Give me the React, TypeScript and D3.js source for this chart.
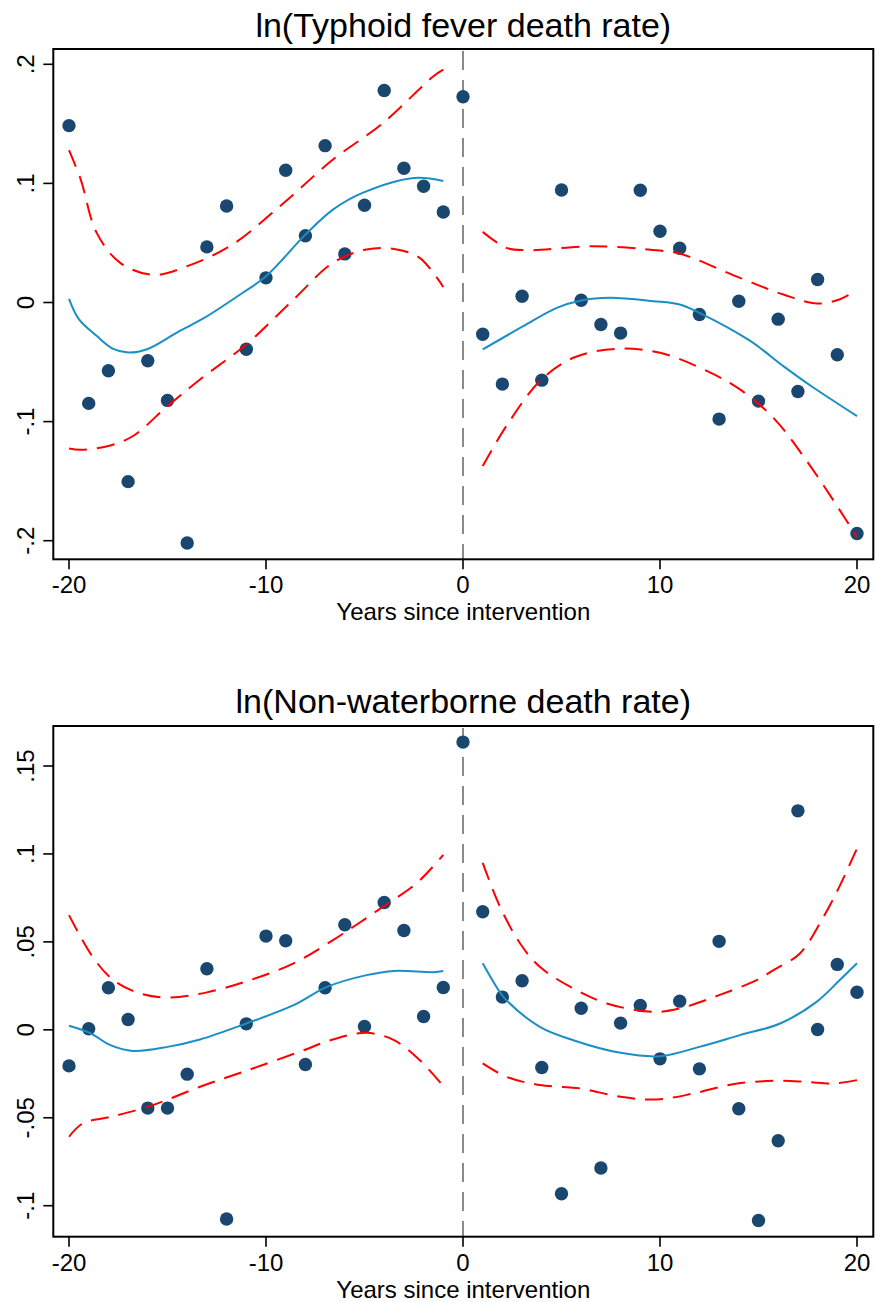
import React from "react";
import * as d3 from "d3";

// ---------- data ----------
const years = [
  -20, -19, -18, -17, -16, -15, -14, -13, -12, -11, -10, -9, -8, -7, -6, -5, -4, -3, -2, -1,
  0, 1, 2, 3, 4, 5, 6, 7, 8, 9, 10, 11, 12, 13, 14, 15, 16, 17, 18, 19, 20,
];

const typhoidValues = [
  0.1485, -0.0847, -0.0573, -0.1504, -0.0489, -0.0822, -0.2019, 0.0467, 0.081, -0.0392,
  0.0207, 0.111, 0.056, 0.1317, 0.0408, 0.0816, 0.178, 0.1127, 0.0976, 0.076,
  0.1728, -0.0266, -0.0685, 0.0053, -0.0652, 0.0945, 0.0019, -0.0185, -0.0257, 0.0942,
  0.0598, 0.0456, -0.0101, -0.0979, 0.0011, -0.0828, -0.014, -0.0747, 0.0193, -0.0439, -0.194,
];

const nonWaterValues = [
  -0.0205, 0.0006, 0.0239, 0.0059, -0.0445, -0.0445, -0.0252, 0.0347, -0.1076, 0.0034,
  0.0533, 0.0506, -0.0197, 0.0239, 0.0597, 0.0019, 0.0724, 0.0565, 0.0076, 0.0241,
  0.1636, 0.0671, 0.0186, 0.0279, -0.0214, -0.0932, 0.0123, -0.0786, 0.0038, 0.0139,
  -0.0165, 0.0163, -0.0222, 0.0503, -0.0449, -0.1084, -0.0631, 0.1245, 0.0002, 0.0372, 0.0214,
];

// fitted local polynomial and CI bands
const typhoidFitPre: [number, number][] = [
  [-20, 0.003], [-19.5, -0.014], [-18.6, -0.028], [-17.75, -0.039], [-17, -0.042], [-16, -0.039],
  [-14.4, -0.024], [-13.2, -0.0136], [-11.2, 0.008], [-10, 0.022], [-8, 0.057], [-6.6, 0.078],
  [-5.1, 0.092], [-2.5, 0.1046], [-1, 0.102],
];
const typhoidUpperPre: [number, number][] = [
  [-20, 0.128], [-19.4, 0.103], [-18.6, 0.0587], [-17.4, 0.0333], [-15.7, 0.0232], [-14, 0.0305],
  [-11.7, 0.0487], [-9.1, 0.0836], [-6.6, 0.12], [-4.06, 0.1507], [-1.5, 0.19], [-1, 0.1955],
];
const typhoidLowerPre: [number, number][] = [
  [-20, -0.1225], [-19.4, -0.1236], [-17.9, -0.12], [-16.75, -0.1121], [-15, -0.087],
  [-13.35, -0.0646], [-11, -0.0352], [-8.6, 0.0025], [-6.6, 0.0333], [-4.9, 0.0445],
  [-3.5, 0.045], [-2.2, 0.0375], [-1, 0.013],
];
const typhoidFitPost: [number, number][] = [
  [1, -0.0394], [3.06, -0.0199], [4.76, -0.0045], [6, 0.0017], [7.46, 0.0039], [9.66, 0.0011],
  [11, -0.0017], [12, -0.0087], [14.6, -0.0325], [16.26, -0.0534], [17.8, -0.0716], [20, -0.0954],
];
const typhoidUpperPost: [number, number][] = [
  [1, 0.0593], [2.2, 0.0459], [3.2, 0.0439], [6.6, 0.0472], [10, 0.0436], [11, 0.0411],
  [14.06, 0.0207], [16.26, 0.0067], [17.95, -0.0008], [19.1, 0.0025], [20, 0.0103],
];
const typhoidLowerPost: [number, number][] = [
  [1, -0.1373], [2.2, -0.1038], [3.9, -0.066], [5.6, -0.0464], [7.8, -0.0389], [10, -0.0422],
  [12.4, -0.0576], [14.06, -0.073], [15.75, -0.0967], [17.45, -0.1331], [19.1, -0.1737], [20, -0.197],
];

const nonWaterFitPre: [number, number][] = [
  [-20, 0.0023], [-18.9, -0.002], [-17.9, -0.0087], [-16.75, -0.012], [-15, -0.0097],
  [-13.35, -0.0055], [-11, 0.0036], [-8.6, 0.014], [-6.9, 0.0244], [-4.9, 0.0311],
  [-3.5, 0.0335], [-1.5, 0.0328], [-1, 0.0335],
];
const nonWaterUpperPre: [number, number][] = [
  [-20, 0.0652], [-18.8, 0.0415], [-17.75, 0.0283], [-16.4, 0.0207], [-15, 0.0184], [-13, 0.0213],
  [-10.8, 0.0283], [-8.6, 0.0378], [-6.6, 0.051], [-4.06, 0.07], [-2.37, 0.0832], [-1, 0.0995],
];
const nonWaterLowerPre: [number, number][] = [
  [-20, -0.0608], [-19.3, -0.0532], [-17.9, -0.0495], [-15.9, -0.0434], [-13.35, -0.0324],
  [-10.8, -0.0225], [-8.3, -0.0125], [-6.6, -0.0055], [-4.9, -0.0017], [-3.5, -0.0059],
  [-2.2, -0.0172], [-1, -0.032],
];
const nonWaterFitPost: [number, number][] = [
  [1, 0.0378], [1.8, 0.0226], [2.2, 0.0169], [3.9, 0.0017], [5.6, -0.0059], [8, -0.0131],
  [10, -0.015], [12, -0.0097], [14.06, -0.003], [16.1, 0.0036], [17.95, 0.0159], [19.1, 0.028],
  [20, 0.0378],
];
const nonWaterUpperPost: [number, number][] = [
  [1, 0.0949], [1.88, 0.07], [2.9, 0.0491], [3.9, 0.0358], [5.6, 0.0235], [7.3, 0.015],
  [9.66, 0.0102], [11, 0.0122], [13, 0.0197], [14.9, 0.0282], [15.76, 0.0339], [17.1, 0.0434],
  [18.3, 0.0642], [19.1, 0.0813], [20, 0.1031],
];
const nonWaterLowerPost: [number, number][] = [
  [1, -0.0191], [2.2, -0.0267], [3.9, -0.0314], [5.94, -0.0333], [8, -0.0381], [9.83, -0.0396],
  [11.7, -0.0362], [13.7, -0.0309], [15.76, -0.029], [17.45, -0.0296], [18.8, -0.0305], [20, -0.0286],
];

const xTicks = [-20, -10, 0, 10, 20];
const xTickLabels = ["-20", "-10", "0", "10", "20"];
const typhoidYTicks = [-0.2, -0.1, 0, 0.1, 0.2];
const typhoidYTickLabels = ["-.2", "-.1", "0", ".1", ".2"];
const nonWaterYTicks = [-0.1, -0.05, 0, 0.05, 0.1, 0.15];
const nonWaterYTickLabels = ["-.1", "-.05", "0", ".05", ".1", ".15"];

const titles = ["ln(Typhoid fever death rate)", "ln(Non-waterborne death rate)"];
const xAxisTitle = "Years since intervention";

// ---------- styles ----------
const FONT = "'Liberation Sans', Arial, Helvetica, sans-serif";
const DOT = "#1a476f";
const FIT = "#1a8fc6";
const CI = "#ff0000";

type PanelProps = {
  title: string;
  values: number[];
  yTicks: number[];
  yTickLabels: string[];
  yDomain: [number, number];
  frameTop: number;
  frameBottom: number;
  yRange: [number, number];
  titleY: number;
  fits: [number, number][][];
  cis: [number, number][][];
};

const FRAME_LEFT = 53.3;
const FRAME_RIGHT = 873.3;

function Panel(p: PanelProps) {
  const x = d3.scaleLinear().domain([-20, 20]).range([69, 857]);
  const y = d3.scaleLinear().domain(p.yDomain).range(p.yRange);
  const line = d3
    .line<[number, number]>()
    .x((d) => x(d[0]))
    .y((d) => y(d[1]))
    .curve(d3.curveCatmullRom.alpha(0.5));
  const cx = (FRAME_LEFT + FRAME_RIGHT) / 2;
  return (
    <g>
      <text x={cx} y={p.titleY} textAnchor="middle" fontFamily={FONT} fontSize={34} fill="#000">
        {p.title}
      </text>
      {/* vertical intervention line */}
      <line
        x1={x(0)}
        x2={x(0)}
        y1={p.frameTop + 2}
        y2={p.frameBottom}
        stroke="#8a8a8a"
        strokeWidth={2}
        strokeDasharray="19,10"
      />
      {/* points */}
      {years.map((yr, i) => (
        <circle key={i} cx={x(yr)} cy={y(p.values[i])} r={6.7} fill={DOT} />
      ))}
      {/* CI bands */}
      {p.cis.map((c, i) => (
        <path
          key={"ci" + i}
          d={line(c) || ""}
          fill="none"
          stroke={CI}
          strokeWidth={2}
          strokeDasharray="18,10"
        />
      ))}
      {/* fits */}
      {p.fits.map((c, i) => (
        <path key={"fit" + i} d={line(c) || ""} fill="none" stroke={FIT} strokeWidth={2} />
      ))}
      {/* frame */}
      <rect
        x={FRAME_LEFT}
        y={p.frameTop}
        width={FRAME_RIGHT - FRAME_LEFT}
        height={p.frameBottom - p.frameTop}
        fill="none"
        stroke="#000"
        strokeWidth={2}
      />
      {/* y ticks */}
      {p.yTicks.map((t, i) => (
        <g key={"yt" + i}>
          <line x1={FRAME_LEFT - 10} x2={FRAME_LEFT} y1={y(t)} y2={y(t)} stroke="#000" strokeWidth={1.6} />
          <text
            transform={`translate(34,${y(t)}) rotate(-90)`}
            textAnchor="middle"
            fontFamily={FONT}
            fontSize={24}
            fill="#000"
          >
            {p.yTickLabels[i]}
          </text>
        </g>
      ))}
      {/* x ticks */}
      {xTicks.map((t, i) => (
        <g key={"xt" + i}>
          <line x1={x(t)} x2={x(t)} y1={p.frameBottom} y2={p.frameBottom + 10} stroke="#000" strokeWidth={1.6} />
          <text x={x(t)} y={p.frameBottom + 34} textAnchor="middle" fontFamily={FONT} fontSize={24} fill="#000">
            {xTickLabels[i]}
          </text>
        </g>
      ))}
      <text x={cx} y={p.frameBottom + 61} textAnchor="middle" fontFamily={FONT} fontSize={24} fill="#000">
        {xAxisTitle}
      </text>
    </g>
  );
}

export default function App() {
  return (
    <svg
      width={876}
      height={1302}
      style={{ position: "absolute", left: 0, top: 0, background: "#fff" }}
      xmlns="http://www.w3.org/2000/svg"
    >
      <rect x={0} y={0} width={876} height={1302} fill="#fff" />
      <Panel
        title={titles[0]}
        values={typhoidValues}
        yTicks={typhoidYTicks}
        yTickLabels={typhoidYTickLabels}
        yDomain={[-0.2, 0.2]}
        yRange={[540.7, 64.3]}
        frameTop={49}
        frameBottom={559.3}
        titleY={37}
        fits={[typhoidFitPre, typhoidFitPost]}
        cis={[typhoidUpperPre, typhoidLowerPre, typhoidUpperPost, typhoidLowerPost]}
      />
      <Panel
        title={titles[1]}
        values={nonWaterValues}
        yTicks={nonWaterYTicks}
        yTickLabels={nonWaterYTickLabels}
        yDomain={[-0.1, 0.15]}
        yRange={[1205.7, 766]}
        frameTop={726}
        frameBottom={1236.7}
        titleY={713}
        fits={[nonWaterFitPre, nonWaterFitPost]}
        cis={[nonWaterUpperPre, nonWaterLowerPre, nonWaterUpperPost, nonWaterLowerPost]}
      />
    </svg>
  );
}
